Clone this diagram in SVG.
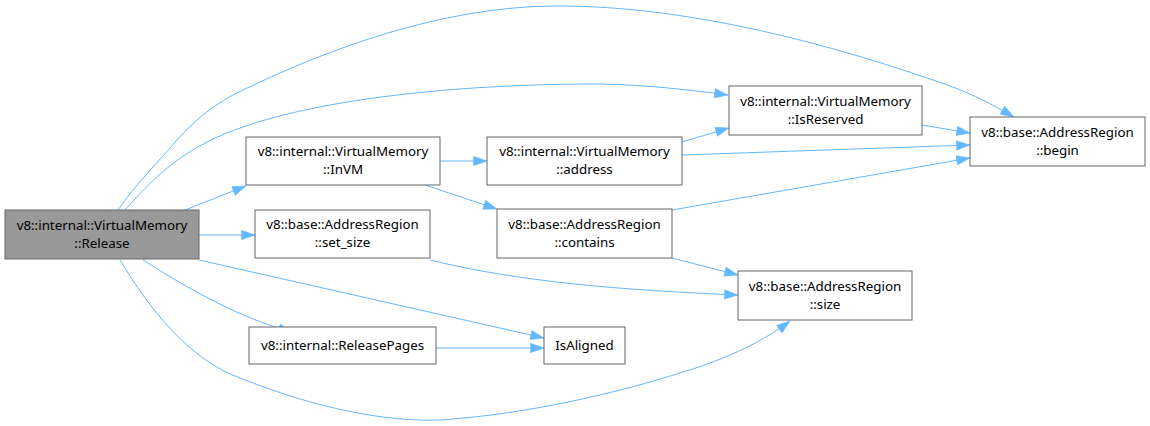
<svg xmlns="http://www.w3.org/2000/svg" width="1150" height="426" viewBox="0 0 1150 426">
<style>
.n rect{fill:#fff;stroke:#666;stroke-width:1}
.n.hl rect{fill:#999}
.n text{font-family:"Noto Sans","DejaVu Sans",sans-serif;font-size:13.33px;fill:#000;text-anchor:middle}
.e path{fill:none;stroke:#63b8ff;stroke-width:1;marker-end:url(#a)}
</style>
<defs>
<marker id="a" markerUnits="userSpaceOnUse" markerWidth="15" markerHeight="11" refX="14" refY="5.5" orient="auto">
<path d="M0.5,0.8 L14,5.5 L0.5,10.2 Z" fill="#63b8ff" stroke="#63b8ff" stroke-width="0.5"/>
</marker>
</defs>
<rect width="1150" height="426" fill="#fff"/>
<g id="edges" class="e">
<path d="M118,210 C135,185 160,160 177,140 C195,120 215,103 243,90 C330,48 440,8 550,6 C700,4 860,55 933,80 C970,92 995,106 1014,117"/>
<path d="M125,210 C160,170 190,145 243,127 C320,100 450,84 600,84 C650,85 690,90 728,95"/>
<path d="M185,210 L246,186"/>
<path d="M199,235 L255,235"/>
<path d="M199,260 L544,338"/>
<path d="M143,260 C190,290 240,318 292,332"/>
<path d="M120,260 C150,310 190,360 240,378 C320,410 390,422 440,420 C530,414 620,392 680,373 C730,358 765,340 790,321"/>
<path d="M440,161 L487,161"/>
<path d="M425,185 L497,209"/>
<path d="M682,142 L729,128"/>
<path d="M682,155 L970,145"/>
<path d="M672,210 L970,158"/>
<path d="M672,258 L738,275"/>
<path d="M430,260 C520,282 620,290 738,295"/>
<path d="M436,348 L544,348"/>
<path d="M922,125 L970,133"/>
</g>
<g id="release" class="n hl"><rect x="5" y="210" width="194" height="49"/><text x="102" y="229.5">v8::internal::VirtualMemory</text><text x="102" y="247.5">::Release</text></g>
<g id="invm" class="n"><rect x="246" y="137" width="194" height="48"/><text x="343" y="156">v8::internal::VirtualMemory</text><text x="343" y="174">::InVM</text></g>
<g id="set_size" class="n"><rect x="255" y="210" width="175" height="48"/><text x="342.5" y="229">v8::base::AddressRegion</text><text x="342.5" y="247">::set_size</text></g>
<g id="address" class="n"><rect x="487" y="137" width="195" height="48"/><text x="584.5" y="156">v8::internal::VirtualMemory</text><text x="584.5" y="174">::address</text></g>
<g id="contains" class="n"><rect x="497" y="209" width="175" height="49"/><text x="584.5" y="228.5">v8::base::AddressRegion</text><text x="584.5" y="246.5">::contains</text></g>
<g id="isreserved" class="n"><rect x="729" y="86" width="193" height="49"/><text x="825.5" y="105.5">v8::internal::VirtualMemory</text><text x="825.5" y="123.5">::IsReserved</text></g>
<g id="begin" class="n"><rect x="970" y="117" width="175" height="49"/><text x="1057.5" y="136.5">v8::base::AddressRegion</text><text x="1057.5" y="154.5">::begin</text></g>
<g id="size" class="n"><rect x="738" y="271" width="174" height="49"/><text x="825" y="290.5">v8::base::AddressRegion</text><text x="825" y="308.5">::size</text></g>
<g id="releasepages" class="n"><rect x="249" y="327" width="187" height="37"/><text x="342.5" y="350">v8::internal::ReleasePages</text></g>
<g id="isaligned" class="n"><rect x="544" y="327" width="81" height="37"/><text x="584.5" y="350">IsAligned</text></g>
</svg>
